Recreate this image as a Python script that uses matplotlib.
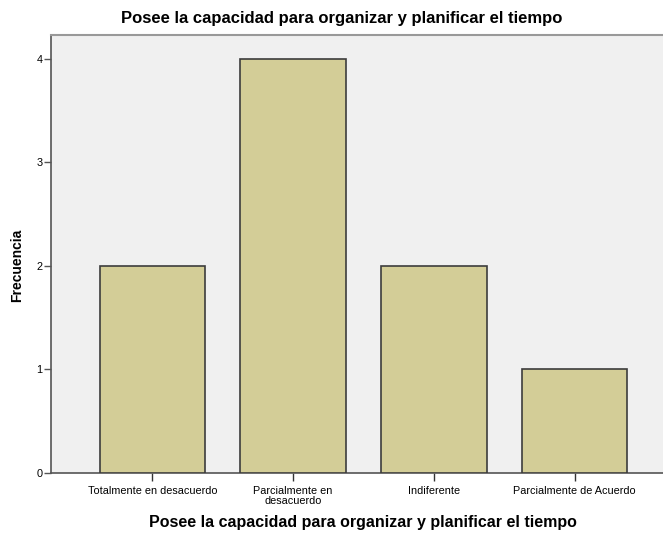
import numpy as np
import matplotlib.pyplot as plt

plt.rcParams['font.family'] = ['Liberation Sans', 'DejaVu Sans']

# frequency table
categorias = ['Totalmente en desacuerdo', 'Parcialmente en\ndesacuerdo',
              'Indiferente', 'Parcialmente de Acuerdo']
frecuencias = [2, 4, 2, 1]
titulo = 'Posee la capacidad para organizar y planificar el tiempo'

W, H = 663, 533
fig = plt.figure(figsize=(W / 100, H / 100), dpi=100)
# plot area runs past the right edge of the canvas
ax = fig.add_axes([51 / W, 1 - 473 / H, 625 / W, 438 / H])
ax.set_facecolor('#f0f0f0')

x = np.arange(len(categorias))
ax.bar(x, frecuencias, width=0.75, color='#d3cd97', edgecolor='#3c3c3c',
       linewidth=1.2, zorder=3)

ax.set_xlim(-0.72, 3.72)
ax.set_ylim(0, 4.23)
ax.set_xticks(x)
ax.set_xticklabels(categorias, fontsize=7.8, linespacing=1.0)
ax.set_yticks([0, 1, 2, 3, 4])
ax.tick_params(axis='y', labelsize=7.8, length=5, width=1, color='#555555', pad=1)
ax.tick_params(axis='x', length=6, width=1, color='#333333', pad=3)

for side in ['left', 'bottom']:
    ax.spines[side].set_color('#555555')
    ax.spines[side].set_linewidth(1.2)
ax.spines['top'].set_color('#999999')
ax.spines['top'].set_linewidth(1.5)
ax.spines['right'].set_visible(False)

fig.text(342 / W, 1 - 19 / H, titulo, ha='center', va='center',
         fontsize=12, fontweight='bold')
fig.text(363 / W, 1 - 523 / H, titulo, ha='center', va='center',
         fontsize=11.5, fontweight='bold')
fig.text(17 / W, 1 - 265 / H, 'Frecuencia', ha='center', va='center',
         rotation=90, fontsize=10, fontweight='bold')

fig.savefig('out.png', dpi=100)
